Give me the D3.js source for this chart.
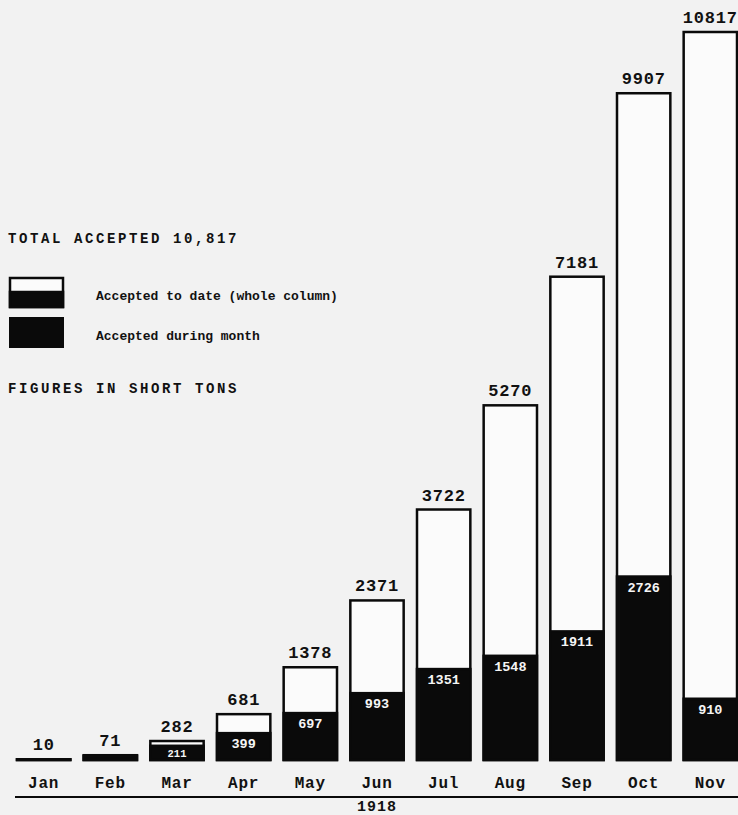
<!DOCTYPE html>
<html>
<head>
<meta charset="utf-8">
<script src="https://cdn.jsdelivr.net/npm/d3@7"></script>
<style>
  html, body { margin: 0; padding: 0; background: #f2f2f2; }
  svg { display: block; }
  text { font-family: "Liberation Mono", "DejaVu Sans Mono", monospace; font-weight: bold; fill: #111; }
</style>
</head>
<body>
<script>
// ---- data ----
const months = ["Jan", "Feb", "Mar", "Apr", "May", "Jun", "Jul", "Aug", "Sep", "Oct", "Nov"];
const cumulative = [10, 71, 282, 681, 1378, 2371, 3722, 5270, 7181, 9907, 10817];
const monthly = [10, 61, 211, 399, 697, 993, 1351, 1548, 1911, 2726, 910];
const yearLabel = "1918";
const titleText = "TOTAL ACCEPTED 10,817";
const legendLabels = ["Accepted to date (whole column)", "Accepted during month"];
const unitsText = "FIGURES IN SHORT TONS";

// ---- layout ----
const W = 738, H = 815;
const baseY = 760, topY = 32;
const svg = d3.select("body").append("svg").attr("width", W).attr("height", H);
svg.append("rect").attr("width", W).attr("height", H).attr("fill", "#f2f2f2");

const x = d3.scaleBand().domain(months).range([17, 737]).paddingInner(0.2).paddingOuter(0);
const y = d3.scaleLinear().domain([0, d3.max(cumulative)]).range([baseY, topY]);

const data = months.map((m, i) => ({ m, cum: cumulative[i], mon: monthly[i] }));

// whole columns
svg.selectAll("rect.whole").data(data).join("rect")
  .attr("class", "whole")
  .attr("x", d => x(d.m)).attr("width", x.bandwidth())
  .attr("y", d => y(d.cum)).attr("height", d => y(0) - y(d.cum))
  .attr("fill", "#fbfbfb").attr("stroke", "#0a0a0a").attr("stroke-width", 2.5);

// monthly part
svg.selectAll("rect.month").data(data).join("rect")
  .attr("class", "month")
  .attr("x", d => x(d.m)).attr("width", x.bandwidth())
  .attr("y", d => y(d.mon)).attr("height", d => y(0) - y(d.mon))
  .attr("fill", "#0a0a0a").attr("stroke", "#0a0a0a").attr("stroke-width", 2.5);

// top labels
svg.selectAll("text.top").data(data).join("text")
  .attr("class", "top")
  .attr("x", d => x(d.m) + x.bandwidth() / 2)
  .attr("y", d => y(d.cum) - 9)
  .attr("text-anchor", "middle")
  .attr("font-size", 17).attr("letter-spacing", 0.8)
  .text(d => d.cum);

// inner labels
svg.selectAll("text.inner").data(data.filter(d => y(0) - y(d.mon) > 10)).join("text")
  .attr("class", "inner")
  .attr("x", d => x(d.m) + x.bandwidth() / 2)
  .attr("y", d => Math.min(y(d.mon) + 15, (y(d.mon) + y(0)) / 2 + 4))
  .attr("text-anchor", "middle")
  .attr("font-size", d => (y(0) - y(d.mon) < 20 ? 10.5 : 13.5))
  .style("fill", "#f5f5f5")
  .text(d => d.mon);

// month labels
svg.selectAll("text.month").data(months).join("text")
  .attr("class", "month")
  .attr("x", d => x(d) + x.bandwidth() / 2)
  .attr("y", 788)
  .attr("text-anchor", "middle")
  .attr("font-size", 16).attr("letter-spacing", 0.8)
  .text(d => d);

// axis line
svg.append("line").attr("x1", 15).attr("x2", 738).attr("y1", 797).attr("y2", 797)
  .attr("stroke", "#0a0a0a").attr("stroke-width", 2);

svg.append("text").attr("x", 377).attr("y", 811).attr("text-anchor", "middle")
  .attr("font-size", 15).attr("letter-spacing", 1).text(yearLabel);

// legend
svg.append("text").attr("x", 8).attr("y", 243).attr("font-size", 14).attr("letter-spacing", 2.6).text(titleText);

svg.append("rect").attr("x", 10).attr("y", 278).attr("width", 53).attr("height", 29)
  .attr("fill", "#fbfbfb").attr("stroke", "#0a0a0a").attr("stroke-width", 2.5);
svg.append("rect").attr("x", 10).attr("y", 292).attr("width", 53).attr("height", 15)
  .attr("fill", "#0a0a0a").attr("stroke", "#0a0a0a").attr("stroke-width", 2.5);
svg.append("rect").attr("x", 10).attr("y", 318).attr("width", 53).attr("height", 29)
  .attr("fill", "#0a0a0a").attr("stroke", "#0a0a0a").attr("stroke-width", 2);

svg.append("text").attr("x", 96).attr("y", 300).attr("font-size", 13).text(legendLabels[0]);
svg.append("text").attr("x", 96).attr("y", 340).attr("font-size", 13).text(legendLabels[1]);

svg.append("text").attr("x", 8).attr("y", 393).attr("font-size", 14).attr("letter-spacing", 2.6).text(unitsText);
</script>
</body>
</html>
